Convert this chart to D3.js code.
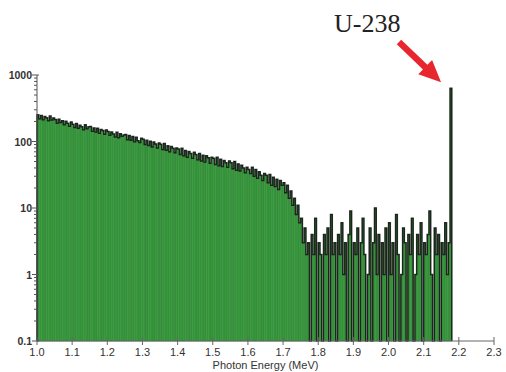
<!DOCTYPE html>
<html>
<head>
<meta charset="utf-8">
<script src="https://cdn.jsdelivr.net/npm/d3@7"></script>
<style>
  body { margin: 0; background: #fff; }
  svg { display: block; }
</style>
</head>
<body>
<svg id="svg"></svg>
<script>
// spectrum: counts per channel, channels 0.005 MeV wide starting at 1.000 MeV
const binStart = 1.0;
const binWidth = 0.005;
const counts = [
  252, 219, 246, 212, 238, 227, 205, 241, 210, 226,
  214, 188, 217, 193, 206, 179, 201, 188, 170, 196,
  181, 163, 187, 158, 176, 167, 150, 178, 155, 166,
  168, 142, 160, 139, 158, 133, 151, 146, 128, 149,
  141, 124, 139, 130, 117, 138, 114, 131, 120, 125,
  127, 106, 123, 104, 119, 99, 116, 103, 97, 112,
  108, 90, 104, 87, 101, 83, 98, 92, 80, 95,
  91, 76, 93, 74, 86, 70, 84, 79, 68, 80,
  77, 64, 79, 61, 73, 58, 71, 66, 56, 69,
  64, 53, 66, 51, 62, 49, 61, 57, 47, 58,
  56, 45, 58, 43, 54, 42, 52, 48, 41, 51,
  48, 39, 50, 37, 46, 36, 44, 40, 34, 41,
  38, 33, 41, 30, 38, 28, 35, 31, 26, 33,
  31, 24, 32, 22, 29, 21, 27, 19, 26, 22,
  24, 17, 22, 14, 18, 11, 14, 8, 11, 6,
  7, 3, 5, 2,
  // background region 1.77 - 2.17 MeV
  3, 0, 4, 2, 7, 0, 3, 2, 0, 4,
  2, 5, 0, 8, 2, 3, 0, 4, 2, 6,
  1, 3, 0, 4, 9, 0, 3, 2, 5, 0,
  3, 7, 2, 0, 1, 5, 0, 3, 10, 1,
  4, 0, 3, 1, 5, 0, 6, 1, 3, 0,
  8, 2, 0, 1, 5, 3, 0, 4, 2, 7,
  0, 1, 4, 2, 6, 0, 3, 2, 4, 9,
  1, 0, 5, 2, 4, 0, 3, 2, 6, 1,
  3,
  // U-238 line
  630
];
const xTicks = [1.0, 1.1, 1.2, 1.3, 1.4, 1.5, 1.6, 1.7, 1.8, 1.9, 2.0, 2.1, 2.2, 2.3];
const yTicks = [0.1, 1, 10, 100, 1000];
const yTickLabels = ['0.1', '1', '10', '100', '1000'];
const xTitle = 'Photon Energy (MeV)';
const peakLabel = 'U-238';

const width = 506, height = 372;
const svg = d3.select('#svg').attr('width', width).attr('height', height);

const x = d3.scaleLinear().domain([1.0, 2.3]).range([37, 494]);
const y = d3.scaleLog().domain([0.1, 1000]).range([341, 75]);
const yv = v => v > 0 ? y(v) : y(0.1);

const data = counts.map((c, i) => ({ e: binStart + i * binWidth, c: c }));

// bars
svg.append('g')
  .selectAll('rect')
  .data(data.filter(d => d.c > 0))
  .enter()
  .append('rect')
  .attr('x', d => x(d.e))
  .attr('width', x(binStart + binWidth) - x(binStart))
  .attr('y', d => y(d.c))
  .attr('height', d => y(0.1) - y(d.c))
  .attr('fill', '#3b9f3f')
  .attr('stroke', '#2a7d31')
  .attr('stroke-width', 0.5);

// outline (step) on top
const pts = data.map(d => [d.e, d.c]);
pts.push([binStart + counts.length * binWidth, 0]);
const step = d3.line()
  .x(d => x(d[0]))
  .y(d => yv(d[1]))
  .curve(d3.curveStepAfter);
svg.append('path')
  .attr('d', step([[binStart, 0]].concat(pts)))
  .attr('fill', 'none')
  .attr('stroke', '#111')
  .attr('stroke-opacity', 0.85)
  .attr('stroke-width', 1.5);

// x axis
const xAxis = svg.append('g').attr('transform', 'translate(0,' + y(0.1) + ')');
xAxis.append('line')
  .attr('x1', x(1.0)).attr('x2', x(2.3))
  .attr('stroke', '#666').attr('stroke-width', 1);
xAxis.selectAll('line.tick')
  .data(xTicks)
  .enter()
  .append('line')
  .attr('class', 'tick')
  .attr('x1', d => x(d)).attr('x2', d => x(d))
  .attr('y1', -4).attr('y2', 4)
  .attr('stroke', '#666');
xAxis.selectAll('text')
  .data(xTicks)
  .enter()
  .append('text')
  .attr('x', d => x(d))
  .attr('y', 15)
  .attr('text-anchor', 'middle')
  .attr('font-family', 'Liberation Sans, Arial, sans-serif')
  .attr('font-size', 11)
  .attr('fill', '#333')
  .text(d => d.toFixed(1));

svg.append('text')
  .attr('x', (x(1.0) + x(2.3)) / 2)
  .attr('y', 369)
  .attr('text-anchor', 'middle')
  .attr('font-family', 'Liberation Sans, Arial, sans-serif')
  .attr('font-size', 11)
  .attr('fill', '#333')
  .text(xTitle);

// y axis
const yAxis = svg.append('g').attr('transform', 'translate(' + x(1.0) + ',0)');
yAxis.append('line')
  .attr('y1', y(0.1)).attr('y2', y(1000))
  .attr('stroke', '#555');
const minor = [];
yTicks.slice(0, -1).forEach(t => {
  for (let k = 2; k < 10; k++) minor.push(t * k);
});
yAxis.selectAll('line.minor')
  .data(minor)
  .enter()
  .append('line')
  .attr('class', 'minor')
  .attr('x1', -3).attr('x2', 0)
  .attr('y1', d => y(d)).attr('y2', d => y(d))
  .attr('stroke', '#555');
yAxis.selectAll('line.major')
  .data(yTicks)
  .enter()
  .append('line')
  .attr('class', 'major')
  .attr('x1', -5).attr('x2', 2)
  .attr('y1', d => y(d)).attr('y2', d => y(d))
  .attr('stroke', '#555');
yAxis.selectAll('text')
  .data(yTicks)
  .enter()
  .append('text')
  .attr('x', -5)
  .attr('y', d => y(d) + 4)
  .attr('text-anchor', 'end')
  .attr('font-family', 'Liberation Sans, Arial, sans-serif')
  .attr('font-size', 10.5)
  .attr('font-weight', 'bold')
  .attr('fill', '#333')
  .text((d, i) => yTickLabels[i]);

// annotation
const peak = data[data.length - 1];
const px = x(peak.e), py = y(peak.c);
svg.append('text')
  .attr('x', 334)
  .attr('y', 32)
  .attr('font-family', 'Liberation Serif, Times New Roman, serif')
  .attr('font-size', 26)
  .attr('fill', '#222')
  .text(peakLabel);

// red arrow
const tip = [px - 9, py - 6];
const tail = [399, 42];
const ang = Math.atan2(tip[1] - tail[1], tip[0] - tail[0]);
const headLen = 22, headW = 10, shaftW = 3.2;
const bx = tip[0] - headLen * Math.cos(ang), by = tip[1] - headLen * Math.sin(ang);
const nx = -Math.sin(ang), ny = Math.cos(ang);
const arrowPts = [
  [tail[0] + nx * shaftW, tail[1] + ny * shaftW],
  [bx + nx * shaftW, by + ny * shaftW],
  [bx + nx * headW, by + ny * headW],
  tip,
  [bx - nx * headW, by - ny * headW],
  [bx - nx * shaftW, by - ny * shaftW],
  [tail[0] - nx * shaftW, tail[1] - ny * shaftW]
];
svg.append('path')
  .attr('d', 'M' + arrowPts.map(p => p.join(',')).join('L') + 'Z')
  .attr('fill', '#e8262e');
</script>
</body>
</html>
